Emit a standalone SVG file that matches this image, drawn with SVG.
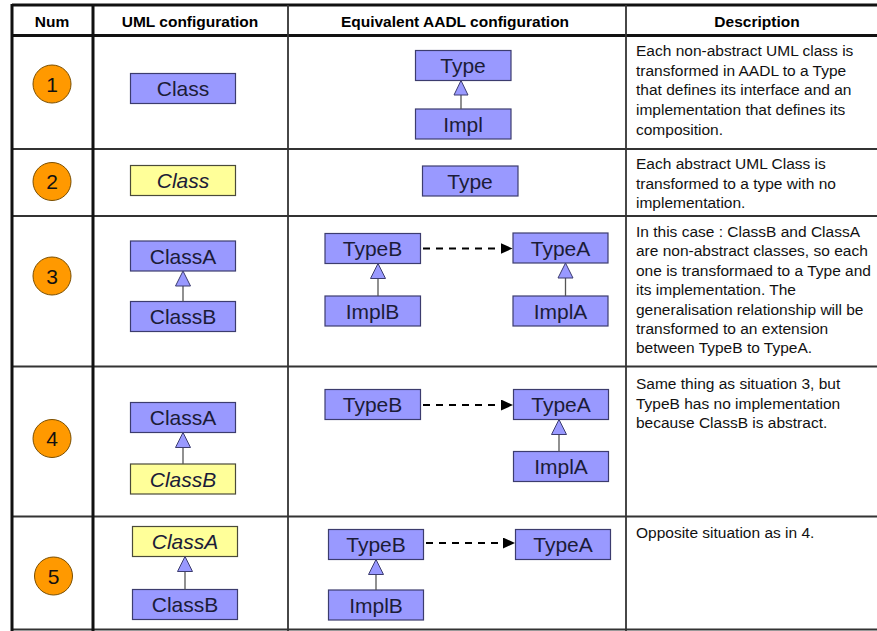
<svg xmlns="http://www.w3.org/2000/svg" width="877" height="631" viewBox="0 0 877 631">
  <style>
    .hdr { font-family: "Liberation Sans", Arial, sans-serif; font-size: 15.5px; font-weight: bold; fill: #000; text-anchor: middle; }
    .desc { font-family: "Liberation Sans", Arial, sans-serif; font-size: 15.5px; fill: #111; }
    .num { font-family: "Liberation Sans", Arial, sans-serif; font-size: 21px; fill: #111; text-anchor: middle; }
    .box { fill: #9999ff; stroke: #3c3c6e; stroke-width: 1.2; }
    .abs { fill: #ffff99; stroke: #4a4a3a; stroke-width: 1.2; }
    .lbl { font-family: "Liberation Sans", Arial, sans-serif; font-size: 21px; fill: #1c1c38; text-anchor: middle; }
    .it { font-style: italic; }
    .badge { fill: #ff9900; stroke: #7a4e00; stroke-width: 1; }
    .thick { stroke: #111; stroke-width: 3; }
    .thin { stroke: #333; stroke-width: 1.8; }
    .gen { fill: #9999ff; stroke: #3c3c6e; stroke-width: 1; }
    .stem { stroke: #555; stroke-width: 1.3; }
    .ext { stroke: #000; stroke-width: 2; stroke-dasharray: 7 6; fill: none; }
  </style>
  <defs>
    <marker id="head" viewBox="0 0 12 11" refX="12" refY="5.5" markerWidth="12" markerHeight="11" markerUnits="userSpaceOnUse" orient="auto">
      <path d="M0,0 L12,5.5 L0,11 Z" fill="#000"/>
    </marker>
  </defs>

  <rect width="877" height="631" fill="#fff"/>

  <!-- table grid -->
  <g id="grid">
    <line class="thick" x1="12" y1="5" x2="877" y2="5"/>
    <line class="thick" x1="12" y1="35.5" x2="877" y2="35.5"/>
    <line class="thin" x1="12" y1="149" x2="877" y2="149"/>
    <line class="thin" x1="12" y1="216" x2="877" y2="216"/>
    <line class="thin" x1="12" y1="366.5" x2="877" y2="366.5"/>
    <line class="thin" x1="12" y1="516.5" x2="877" y2="516.5"/>
    <line class="thin" x1="12" y1="629.5" x2="877" y2="629.5"/>
    <line class="thick" x1="12" y1="4" x2="12" y2="631"/>
    <line class="thick" x1="93" y1="4" x2="93" y2="631"/>
    <line class="thin" x1="288" y1="5" x2="288" y2="631"/>
    <line class="thin" x1="626" y1="5" x2="626" y2="631"/>
  </g>

  <!-- column headers -->
  <g id="headers">
    <text class="hdr" x="52" y="27">Num</text>
    <text class="hdr" x="190" y="27">UML configuration</text>
    <text class="hdr" x="455" y="27">Equivalent AADL configuration</text>
    <text class="hdr" x="757" y="27">Description</text>
  </g>

  <!-- row numbers -->
  <g id="num1"><circle class="badge" cx="52" cy="84" r="19"/><text class="num" x="52" y="91.5">1</text></g>
  <g id="num2"><circle class="badge" cx="52" cy="181.5" r="19"/><text class="num" x="52" y="189">2</text></g>
  <g id="num3"><circle class="badge" cx="52" cy="276" r="19"/><text class="num" x="52" y="283.5">3</text></g>
  <g id="num4"><circle class="badge" cx="52" cy="438.5" r="19"/><text class="num" x="52" y="446">4</text></g>
  <g id="num5"><circle class="badge" cx="53.5" cy="576" r="19"/><text class="num" x="53.5" y="583.5">5</text></g>

  <!-- UML column -->
  <g id="r1-class"><rect class="box" x="130.5" y="73.5" width="105" height="30"/><text class="lbl" x="183" y="96">Class</text></g>
  <g id="r2-class"><rect class="abs" x="130.5" y="165.5" width="105" height="30"/><text class="lbl it" x="183" y="188">Class</text></g>
  <g id="r3-classA"><rect class="box" x="130.5" y="241" width="105" height="30"/><text class="lbl" x="183" y="263.5">ClassA</text></g>
  <g id="r3-classB"><rect class="box" x="130.5" y="301.5" width="105" height="30"/><text class="lbl" x="183" y="324">ClassB</text></g>
  <g id="r4-classA"><rect class="box" x="130.5" y="402.5" width="105" height="30"/><text class="lbl" x="183" y="425">ClassA</text></g>
  <g id="r4-classB"><rect class="abs" x="130.5" y="464" width="105" height="30"/><text class="lbl it" x="183" y="486.5">ClassB</text></g>
  <g id="r5-classA"><rect class="abs" x="132.5" y="526.5" width="105" height="30"/><text class="lbl it" x="185" y="549">ClassA</text></g>
  <g id="r5-classB"><rect class="box" x="132.5" y="589.5" width="105" height="30"/><text class="lbl" x="185" y="612">ClassB</text></g>

  <!-- AADL column -->
  <g id="r1-type"><rect class="box" x="415.5" y="50.5" width="95.5" height="30"/><text class="lbl" x="463" y="73">Type</text></g>
  <g id="r1-impl"><rect class="box" x="415.5" y="109" width="95.5" height="30"/><text class="lbl" x="463" y="131.5">Impl</text></g>
  <g id="r2-type"><rect class="box" x="422.5" y="166" width="95.5" height="30"/><text class="lbl" x="470" y="188.5">Type</text></g>
  <g id="r3-typeB"><rect class="box" x="325" y="233.5" width="95.5" height="30"/><text class="lbl" x="372.5" y="256">TypeB</text></g>
  <g id="r3-implB"><rect class="box" x="325" y="296" width="95.5" height="30"/><text class="lbl" x="372.5" y="318.5">ImplB</text></g>
  <g id="r3-typeA"><rect class="box" x="513" y="233" width="95" height="30"/><text class="lbl" x="560.5" y="255.5">TypeA</text></g>
  <g id="r3-implA"><rect class="box" x="513" y="296" width="95" height="30"/><text class="lbl" x="560.5" y="318.5">ImplA</text></g>
  <g id="r4-typeB"><rect class="box" x="325" y="389.5" width="95.5" height="30"/><text class="lbl" x="372.5" y="412">TypeB</text></g>
  <g id="r4-typeA"><rect class="box" x="513.5" y="389.5" width="95" height="30"/><text class="lbl" x="561" y="412">TypeA</text></g>
  <g id="r4-implA"><rect class="box" x="513.5" y="451.5" width="95" height="30"/><text class="lbl" x="561" y="474">ImplA</text></g>
  <g id="r5-typeB"><rect class="box" x="328.5" y="529.5" width="95" height="30"/><text class="lbl" x="376" y="552">TypeB</text></g>
  <g id="r5-implB"><rect class="box" x="328.5" y="590" width="95" height="30"/><text class="lbl" x="376" y="612.5">ImplB</text></g>
  <g id="r5-typeA"><rect class="box" x="515.5" y="529.5" width="95" height="30"/><text class="lbl" x="563" y="552">TypeA</text></g>

  <!-- connectors: generalisations (hollow triangle) and extensions (dashed arrow) -->
  <g id="connectors">
    <line class="stem" x1="183" y1="286" x2="183" y2="301.5"/>
    <polygon class="gen" points="183,271 190.5,286 175.5,286"/>
    <line class="stem" x1="183" y1="447.5" x2="183" y2="464"/>
    <polygon class="gen" points="183,432.5 190.5,447.5 175.5,447.5"/>
    <line class="stem" x1="185" y1="571.5" x2="185" y2="589.5"/>
    <polygon class="gen" points="185,556.5 192.5,571.5 177.5,571.5"/>

    <line class="stem" x1="461" y1="95" x2="461" y2="109"/>
    <polygon class="gen" points="461,80.5 468,95 454,95"/>
    <line class="stem" x1="378" y1="278.5" x2="378" y2="296"/>
    <polygon class="gen" points="378,263.5 385.5,278.5 370.5,278.5"/>
    <line class="stem" x1="565.5" y1="278" x2="565.5" y2="296"/>
    <polygon class="gen" points="565.5,263 573,278 558,278"/>
    <line class="stem" x1="559" y1="434.5" x2="559" y2="451.5"/>
    <polygon class="gen" points="559,419.5 566.5,434.5 551.5,434.5"/>
    <line class="stem" x1="376" y1="574.5" x2="376" y2="590"/>
    <polygon class="gen" points="376,559.5 383.5,574.5 368.5,574.5"/>

    <line class="ext" x1="423" y1="248.5" x2="512.5" y2="248.5" marker-end="url(#head)"/>
    <line class="ext" x1="423" y1="405" x2="513" y2="405" marker-end="url(#head)"/>
    <line class="ext" x1="426" y1="543" x2="515" y2="543" marker-end="url(#head)"/>
  </g>

  <!-- descriptions -->
  <g id="desc1">
    <text class="desc" x="636" y="56">Each non-abstract UML class is</text>
    <text class="desc" x="636" y="75.7">transformed in AADL to a Type</text>
    <text class="desc" x="636" y="95.4">that defines its interface and an</text>
    <text class="desc" x="636" y="115">implementation that defines its</text>
    <text class="desc" x="636" y="134.7">composition.</text>
  </g>
  <g id="desc2">
    <text class="desc" x="636" y="169">Each abstract UML Class is</text>
    <text class="desc" x="636" y="188.5">transformed to a type with no</text>
    <text class="desc" x="636" y="208">implementation.</text>
  </g>
  <g id="desc3">
    <text class="desc" x="636" y="237">In this case : ClassB and ClassA</text>
    <text class="desc" x="636" y="256.4">are non-abstract classes, so each</text>
    <text class="desc" x="636" y="275.8">one is transformaed to a Type and</text>
    <text class="desc" x="636" y="295.2">its implementation. The</text>
    <text class="desc" x="636" y="314.6">generalisation relationship will be</text>
    <text class="desc" x="636" y="334">transformed to an extension</text>
    <text class="desc" x="636" y="353.4">between TypeB to TypeA.</text>
  </g>
  <g id="desc4">
    <text class="desc" x="636" y="389">Same thing as situation 3, but</text>
    <text class="desc" x="636" y="408.5">TypeB has no implementation</text>
    <text class="desc" x="636" y="428">because ClassB is abstract.</text>
  </g>
  <g id="desc5">
    <text class="desc" x="636" y="538">Opposite situation as in 4.</text>
  </g>
</svg>
